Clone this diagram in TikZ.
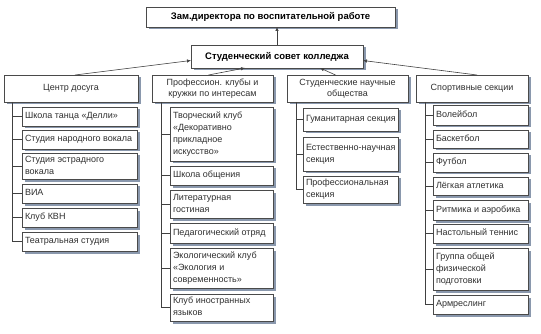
\documentclass[tikz,border=0pt]{standalone}
\usepackage{fontspec}
\setmainfont{Liberation Sans}
\usetikzlibrary{arrows.meta,shadows}
\definecolor{boxline}{HTML}{4A4A4A}
\definecolor{shadowc}{HTML}{8A98AD}
\definecolor{txt}{HTML}{303030}
\definecolor{conn}{HTML}{404040}
\tikzset{
  basebox/.style={draw=boxline, fill=white, line width=0.6pt, text=txt,
    drop shadow={shadow xshift=2.5pt, shadow yshift=-2.5pt, fill=shadowc, opacity=1},
    anchor=north west, inner xsep=3pt, inner ysep=1pt, outer sep=0pt},
  headbox/.style={basebox, font=\fontsize{9.5}{11.5}\selectfont\bfseries, align=center, text=black},
  groupbox/.style={basebox, font=\fontsize{9}{11}\selectfont, align=center},
  childbox/.style={basebox, font=\fontsize{9}{11.5}\selectfont},
  conline/.style={draw=conn, line width=0.6pt},
  arr/.style={conline, -{Latex[length=4pt,width=3.5pt]}},
}
\newcommand{\cbox}[6]{% name, x, y, width, height, text
  \node[childbox, minimum width=#4pt, minimum height=#5pt] (#1) at (#2,#3)
    {\makebox[\dimexpr#4pt-6pt\relax][l]{\renewcommand{\arraystretch}{1.05}\begin{tabular}{@{}l@{}}#6\end{tabular}}};}
\begin{document}
\begin{tikzpicture}[x=1pt,y=-1pt]
\useasboundingbox (0,0) rectangle (541,334);
% head boxes
\node[headbox, minimum width=249pt, minimum height=20pt] (top) at (146,7) {Зам.директора по воспитательной работе};
\node[headbox, minimum width=172pt, minimum height=23pt] (council) at (191,45) {Студенческий совет колледжа};
% group boxes
\node[groupbox, minimum width=134pt, minimum height=27pt] (p1) at (4,75) {Центр досуга};
\node[groupbox, minimum width=121pt, minimum height=27pt] (p2) at (152,75) {Профессион. клубы и\\кружки по интересам};
\node[groupbox, minimum width=121pt, minimum height=27pt] (p3) at (287,75) {Студенческие научные\\общества};
\node[groupbox, minimum width=112pt, minimum height=27pt] (p4) at (416,75) {Спортивные секции};
% column 1
\cbox{c11}{22}{107}{115}{19}{Школа танца «Делли»}
\cbox{c12}{22}{130}{115}{19}{Студия народного вокала}
\cbox{c13}{22}{153}{115}{26}{Студия эстрадного\\вокала}
\cbox{c14}{22}{184}{115}{19}{ВИА}
\cbox{c15}{22}{208}{115}{19}{Клуб КВН}
\cbox{c16}{22}{232}{115}{19}{Театральная студия}
% column 2
\cbox{c21}{170}{107}{103}{54}{Творческий клуб\\«Декоративно\\прикладное\\искусство»}
\cbox{c22}{170}{166}{103}{19}{Школа общения}
\cbox{c23}{170}{190}{103}{28}{Литературная\\гостиная}
\cbox{c24}{170}{223}{103}{20}{Педагогический отряд}
\cbox{c25}{170}{248}{103}{40}{Экологический клуб\\«Экология и\\современность»}
\cbox{c26}{170}{294}{103}{27}{Клуб иностранных\\языков}
% column 3
\cbox{c31}{303}{108}{95}{23}{Гуманитарная секция}
\cbox{c32}{303}{137}{95}{34}{Естественно-научная\\секция}
\cbox{c33}{303}{176}{95}{27}{Профессиональная\\секция}
% column 4
\cbox{c41}{433}{105}{95}{20}{Волейбол}
\cbox{c42}{433}{130}{95}{18}{Баскетбол}
\cbox{c43}{433}{153}{95}{19}{Футбол}
\cbox{c44}{433}{177}{95}{18}{Лёгкая атлетика}
\cbox{c45}{433}{200}{95}{20}{Ритмика и аэробика}
\cbox{c46}{433}{224}{95}{19}{Настольный теннис}
\cbox{c47}{433}{248}{95}{42}{Группа общей\\физической\\подготовки}
\cbox{c48}{433}{295}{95}{19}{Армреслинг}
% arrows
\draw[arr] (council.north) -- (council.north |- top.south);
\draw[arr] ([xshift=4pt]p1.north) -- ([yshift=-4pt]council.west);
\draw[arr] ([xshift=-4pt]p2.north) -- ([xshift=-32pt]council.south);
\draw[arr] ([xshift=-12pt]p3.north) -- ([xshift=43pt]council.south);
\draw[arr] ([xshift=5pt]p4.north) -- ([yshift=-4pt]council.east);
% spines
\coordinate (s1) at ([xshift=8pt]p1.south west);
\coordinate (s2) at ([xshift=9pt]p2.south west);
\coordinate (s3) at ([xshift=9pt]p3.south west);
\coordinate (s4) at ([xshift=9pt]p4.south west);
\draw[conline] (s1) |- (c16.west);
\foreach \c in {c11,c12,c13,c14,c15} \draw[conline] (s1 |- \c.west) -- (\c.west);
\draw[conline] (s2) |- (c26.west);
\foreach \c in {c21,c22,c23,c24,c25} \draw[conline] (s2 |- \c.west) -- (\c.west);
\draw[conline] (s3) |- (c33.west);
\foreach \c in {c31,c32} \draw[conline] (s3 |- \c.west) -- (\c.west);
\draw[conline] (s4) |- (c48.west);
\foreach \c in {c41,c42,c43,c44,c45,c46,c47} \draw[conline] (s4 |- \c.west) -- (\c.west);
\end{tikzpicture}
\end{document}
